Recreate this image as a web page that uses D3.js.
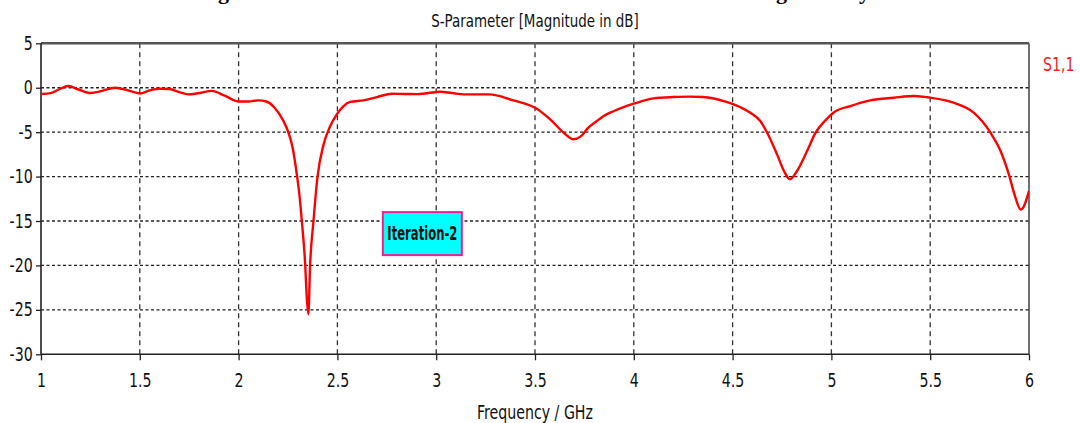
<!DOCTYPE html>
<html>
<head>
<meta charset="utf-8">
<script src="https://cdn.jsdelivr.net/npm/d3@7"></script>
<style>
  html, body { margin: 0; padding: 0; background: #fff; }
  svg { display: block; }
  .lbl { font-family: "DejaVu Sans Condensed", "DejaVu Sans", sans-serif; fill: #111; }
</style>
</head>
<body>
<div id="chart"></div>
<script>
// S1,1 (GHz, dB)
var freq = [1.0, 1.05, 1.09, 1.138, 1.19, 1.25, 1.31, 1.375, 1.44, 1.5, 1.55, 1.6, 1.65, 1.7, 1.745, 1.8, 1.864, 1.93,
  2.0, 2.05, 2.1, 2.14, 2.18, 2.227, 2.25, 2.274, 2.295, 2.31, 2.32, 2.337, 2.345, 2.353, 2.362, 2.379, 2.399, 2.43,
  2.46, 2.497, 2.53, 2.565, 2.632, 2.7, 2.776, 2.84, 2.9, 2.96, 3.02, 3.08, 3.14, 3.27, 3.39, 3.45, 3.5, 3.577, 3.645,
  3.695, 3.73, 3.77, 3.81, 3.85, 3.9, 4.0, 4.1, 4.2, 4.28, 4.35, 4.455, 4.505, 4.54, 4.59, 4.64, 4.675, 4.725, 4.76, 4.79,
  4.826, 4.877, 4.92, 4.97, 5.01, 5.096, 5.197, 5.316, 5.417, 5.5, 5.618, 5.72, 5.805, 5.856, 5.898, 5.932, 5.957,
  5.97, 6.0]
var s11 = [-0.7, -0.6, -0.2, 0.19, -0.2, -0.6, -0.35, 0.0, -0.3, -0.65, -0.3, -0.12, -0.15, -0.5, -0.75, -0.6, -0.35, -0.9,
  -1.55, -1.55, -1.42, -1.55, -2.2, -3.75, -4.9, -6.8, -9.8, -12.5, -15.0, -19.9, -23.6, -25.5, -19.9, -15.0, -10.1, -6.4,
  -4.5, -3.0, -2.1, -1.6, -1.42, -1.05, -0.67, -0.7, -0.72, -0.6, -0.45, -0.6, -0.75, -0.75, -1.42, -1.8, -2.25, -3.56, -5.06,
  -5.8, -5.5, -4.5, -3.8, -3.15, -2.62, -1.8, -1.2, -1.05, -1.0, -1.05, -1.5, -1.87, -2.2, -2.81, -3.75, -5.06, -7.5, -9.37, -10.3,
  -9.37, -7.12, -5.06, -3.67, -2.81, -2.06, -1.42, -1.12, -0.93, -1.12, -1.69, -2.81, -5.06, -7.12, -9.75, -12.4, -13.7,
  -13.5, -11.6]
var xTicks = [1, 1.5, 2, 2.5, 3, 3.5, 4, 4.5, 5, 5.5, 6]
var yTicks = [5, 0, -5, -10, -15, -20, -25, -30]
var seriesName = 'S1,1'
var noteText = 'Iteration-2'
var notePos = [2.73, -14.0]   // top-left corner of the note, in data units

var W = 1080, H = 423
var mLeft = 41, mRight = 1029, mTop = 43.3, mBottom = 354.3
var narrow = 0.83   // the original font is a narrow one

var x = d3.scaleLinear().domain([1, 6]).range([mLeft, mRight])
var y = d3.scaleLinear().domain([-30, 5]).range([mBottom, mTop])

var svg = d3.select('#chart').append('svg').attr('width', W).attr('height', H)
svg.append('rect').attr('width', W).attr('height', H).attr('fill', '#fff')

function label (px, py, size, txt, anchor, sx) {
  return svg.append('text').attr('class', 'lbl')
    .attr('transform', 'translate(' + px + ',' + py + ') scale(' + (sx || narrow) + ',1)')
    .attr('text-anchor', anchor || 'start').attr('font-size', size).text(txt)
}

// clipped caption from the page above
;[[218, 'g'], [776, 'g'], [859, 'y']].forEach(function (c) {
  svg.append('text').attr('x', c[0]).attr('y', -1).attr('font-family', 'Liberation Serif').attr('font-weight', 'bold')
    .attr('font-size', 22).text(c[1])
})

label((mLeft + mRight) / 2, 27, 18, 'S-Parameter [Magnitude in dB]', 'middle')

// grid
svg.append('g').selectAll('line').data(yTicks.filter(function (d) { return d < 5 && d > -30 }))
  .enter().append('line')
  .attr('x1', mLeft).attr('x2', mRight)
  .attr('y1', function (d) { return y(d) }).attr('y2', function (d) { return y(d) })
  .attr('stroke', '#222').attr('stroke-width', 1.3).attr('stroke-dasharray', '3,2.5')
svg.append('g').selectAll('line').data(xTicks.filter(function (d) { return d > 1 && d < 6 }))
  .enter().append('line')
  .attr('y1', mTop).attr('y2', mBottom)
  .attr('x1', function (d) { return x(d) }).attr('x2', function (d) { return x(d) })
  .attr('stroke', '#333').attr('stroke-width', 1.3).attr('stroke-dasharray', '5,4')

// frame
svg.append('line').attr('x1', mRight).attr('x2', mRight).attr('y1', mTop).attr('y2', mBottom)
  .attr('stroke', '#222').attr('stroke-width', 1.3)
svg.append('line').attr('x1', mLeft).attr('x2', mRight).attr('y1', mTop).attr('y2', mTop)
  .attr('stroke', '#555').attr('stroke-width', 2.6)

// axes
var fmt = function (d) { return String(d) }
var xAxis = d3.axisBottom(x).tickValues(xTicks).tickSize(6).tickPadding(13).tickFormat(fmt)
var yAxis = d3.axisLeft(y).tickValues(yTicks).tickSize(5).tickPadding(5).tickFormat(fmt)
var gx = svg.append('g').attr('transform', 'translate(0,' + mBottom + ')').call(xAxis)
var gy = svg.append('g').attr('transform', 'translate(' + mLeft + ',0)').call(yAxis)
;[gx, gy].forEach(function (g) {
  g.select('.domain').attr('stroke', '#222').attr('stroke-width', 1.6)
  g.selectAll('.tick line').attr('stroke', '#222').attr('stroke-width', 1.3)
  g.selectAll('.tick text').attr('class', 'lbl').attr('font-size', 19).attr('fill', '#111')
    .attr('font-family', null)
    .attr('transform', 'scale(' + narrow + ',1)')
})
gx.select('.domain').attr('d', 'M' + mLeft + ',0H' + mRight)
gy.select('.domain').attr('d', 'M0,' + mTop + 'V' + mBottom)

label((mLeft + mRight) / 2, 419, 19, 'Frequency / GHz', 'middle')

// curve
svg.append('clipPath').attr('id', 'plot').append('rect')
  .attr('x', mLeft).attr('y', mTop).attr('width', mRight - mLeft).attr('height', mBottom - mTop)
var line = d3.line()
  .x(function (d, i) { return x(freq[i]) })
  .y(function (d) { return y(d) })
  .curve(d3.curveMonotoneX)
svg.append('path').datum(s11).attr('d', line).attr('clip-path', 'url(#plot)')
  .attr('fill', 'none').attr('stroke', '#ff0000').attr('stroke-width', 2.4).attr('stroke-linejoin', 'round')

label(1043, 71, 19, seriesName).style('fill', '#ff1a1a')

// note box
var nx = x(notePos[0]), ny = y(notePos[1])
svg.append('rect').attr('x', nx).attr('y', ny).attr('width', 79).attr('height', 43)
  .attr('fill', '#00ffff').attr('stroke', '#ff1a8c').attr('stroke-width', 2)
label(nx + 39.5, ny + 28, 19, noteText, 'middle', 0.68).attr('font-weight', 'bold')
</script>
</body>
</html>
